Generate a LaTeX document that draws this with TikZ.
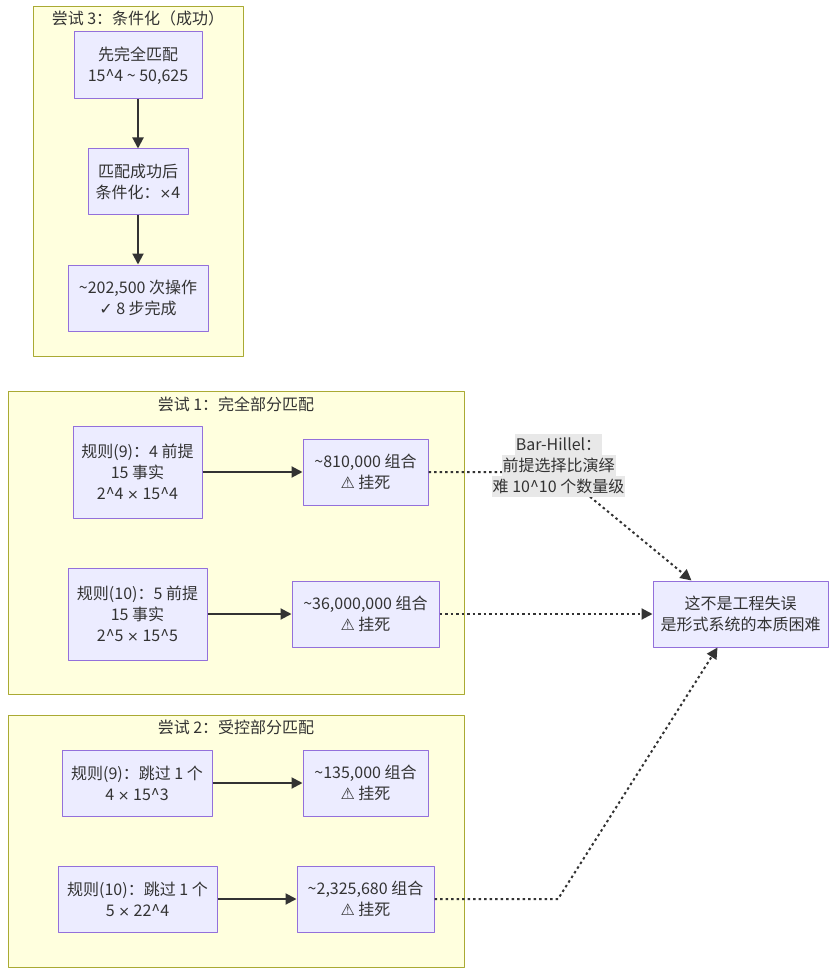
\documentclass[tikz,border=0pt]{standalone}
\usepackage{fontspec}
\setmainfont{Noto Sans CJK SC}
\newfontfamily\symfont{DejaVu Sans}
\usetikzlibrary{arrows.meta}
\definecolor{clfill}{HTML}{FFFFDE}
\definecolor{cldraw}{HTML}{AAAA33}
\definecolor{ndfill}{HTML}{ECECFF}
\definecolor{nddraw}{HTML}{9370DB}
\definecolor{ink}{HTML}{333333}
\definecolor{lblbg}{HTML}{E8E8E8}
\newcommand{\warn}{{\symfont ⚠}}
\newcommand{\okmark}{{\symfont ✓}}
\newcommand{\tms}{{\symfont\fontsize{14}{21}\selectfont ×}}
\newcommand{\pw}{\textasciicircum}
\newcommand{\tld}{\textasciitilde}
\newcommand{\lblline}[1]{{\setlength{\fboxsep}{0pt}\colorbox{lblbg}{\rule[-5pt]{0pt}{21pt}\hspace{1pt}#1\hspace{1pt}}}}
\begin{document}
\begin{tikzpicture}[x=1pt, y=-1pt, line join=round,
	font=\fontsize{16}{21}\selectfont, text=ink,
	box/.style 2 args={draw=nddraw, fill=ndfill, line width=1pt, align=center,
		inner sep=0pt, minimum width=#1pt, minimum height=#2pt},
	cluster/.style={draw=cldraw, fill=clfill, line width=1pt},
	arr/.style={draw=ink, line width=2pt, -{Triangle[length=11pt,width=11pt]}},
	dotarr/.style={arr, dash pattern=on 2.5pt off 3pt}]
	\useasboundingbox (0,0) rectangle (836,976);
	% khung
	\draw[cluster] (33,7) rectangle (243,356);
	\draw[cluster] (8,391) rectangle (464,694);
	\draw[cluster] (8,715) rectangle (464,967);
	\node (T3) at (138,18) {尝试 3：条件化（成功）};
	\node (T1) at (236,404) {尝试 1：完全部分匹配};
	\node (T2) at (236,727) {尝试 2：受控部分匹配};
	% nut
	\node[box={128}{67}] (A) at (138,65.5) {先完全匹配\\15\pw4 \tld\ 50,625};
	\node[box={100}{66}] (B) at (138,182) {匹配成功后\\条件化：\tms4};
	\node[box={140}{66}] (C) at (138,298) {\tld202,500 次操作\\\okmark\ 8 步完成};
	\node[box={129}{92}] (P9) at (137.5,472) {规则(9)：4 前提\\15 事实\\2\pw4 \tms\ 15\pw4};
	\node[box={125}{66}] (Q9) at (365.5,472) {\tld810,000 组合\\\warn\ 挂死};
	\node[box={139}{92}] (P10) at (137.5,614) {规则(10)：5 前提\\15 事实\\2\pw5 \tms\ 15\pw5};
	\node[box={147}{66}] (Q10) at (365.5,614) {\tld36,000,000 组合\\\warn\ 挂死};
	\node[box={150}{66}] (S9) at (137,783) {规则(9)：跳过 1 个\\4 \tms\ 15\pw3};
	\node[box={125}{66}] (R9) at (365.5,783) {\tld135,000 组合\\\warn\ 挂死};
	\node[box={159}{66}] (S10) at (137.5,899) {规则(10)：跳过 1 个\\5 \tms\ 22\pw4};
	\node[box={137}{66}] (R10) at (365.5,899) {\tld2,325,680 组合\\\warn\ 挂死};
	\node[box={175}{66}] (F) at (740.5,614) {这不是工程失误\\是形式系统的本质困难};
	% duong noi
	\path (560,472) coordinate (K1) (558,899) coordinate (K2);
	\foreach \u/\v in {A/B,B/C,P9/Q9,P10/Q10,S9/R9,S10/R10}
		\draw[arr] (\u)--(\v);
	\draw[dotarr] (Q9.east)--(K1)--([xshift=39pt]F.north west);
	\draw[dotarr] (Q10)--(F);
	\draw[dotarr] (R10.east)--(K2)--([xshift=65pt]F.south west);
	\node[align=center, inner sep=0pt] (L) at (558.5,465.5)
		{\lblline{Bar-Hillel：}\\\lblline{前提选择比演绎}\\\lblline{难 10\pw10 个数量级}};
\end{tikzpicture}
\end{document}
